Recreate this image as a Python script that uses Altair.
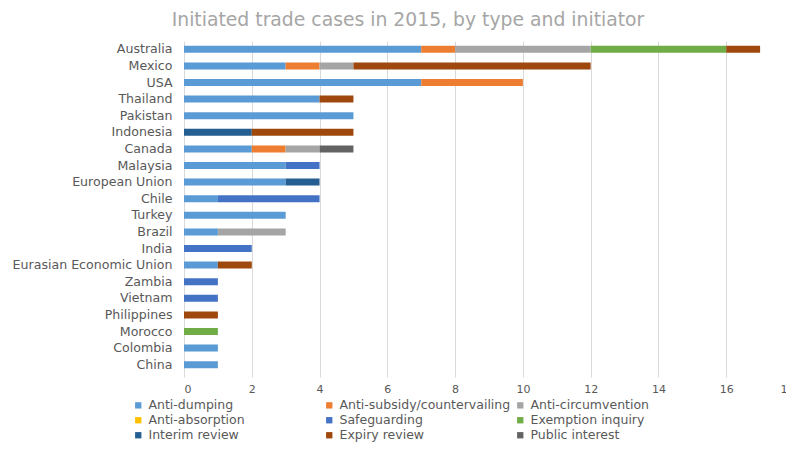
import altair as alt
import pandas as pd

countries = ["Australia", "Mexico", "USA", "Thailand", "Pakistan", "Indonesia", "Canada",
             "Malaysia", "European Union", "Chile", "Turkey", "Brazil", "India",
             "Eurasian Economic Union", "Zambia", "Vietnam", "Philippines", "Morocco",
             "Colombia", "China"]

types = ["Anti-dumping", "Anti-subsidy/countervailing", "Anti-circumvention",
         "Anti-absorption", "Safeguarding", "Exemption inquiry",
         "Interim review", "Expiry review", "Public interest"]

colors = ["#5B9BD5", "#ED7D31", "#A5A5A5", "#FFC000", "#4472C4", "#70AD47",
          "#255E91", "#9E480E", "#636363"]

anti_dumping      = [7, 3, 7, 4, 5, 0, 2, 3, 3, 1, 3, 1, 0, 1, 0, 0, 0, 0, 1, 1]
anti_subsidy      = [1, 1, 3, 0, 0, 0, 1, 0, 0, 0, 0, 0, 0, 0, 0, 0, 0, 0, 0, 0]
anti_circumvention= [4, 1, 0, 0, 0, 0, 1, 0, 0, 0, 0, 2, 0, 0, 0, 0, 0, 0, 0, 0]
anti_absorption   = [0, 0, 0, 0, 0, 0, 0, 0, 0, 0, 0, 0, 0, 0, 0, 0, 0, 0, 0, 0]
safeguarding      = [0, 0, 0, 0, 0, 0, 0, 1, 0, 3, 0, 0, 2, 0, 1, 1, 0, 0, 0, 0]
exemption_inquiry = [4, 0, 0, 0, 0, 0, 0, 0, 0, 0, 0, 0, 0, 0, 0, 0, 0, 1, 0, 0]
interim_review    = [0, 0, 0, 0, 0, 2, 0, 0, 1, 0, 0, 0, 0, 0, 0, 0, 0, 0, 0, 0]
expiry_review     = [1, 7, 0, 1, 0, 3, 0, 0, 0, 0, 0, 0, 0, 1, 0, 0, 1, 0, 0, 0]
public_interest   = [0, 0, 0, 0, 0, 0, 1, 0, 0, 0, 0, 0, 0, 0, 0, 0, 0, 0, 0, 0]

series = [anti_dumping, anti_subsidy, anti_circumvention, anti_absorption, safeguarding,
          exemption_inquiry, interim_review, expiry_review, public_interest]

rows = []
for ti, (t, vals) in enumerate(zip(types, series)):
    for c, v in zip(countries, vals):
        rows.append({"country": c, "type": t, "order": ti, "value": v})
df = pd.DataFrame(rows)

chart = alt.Chart(df).mark_bar(size=7).encode(
    y=alt.Y("country:N", sort=countries, title=None,
            scale=alt.Scale(paddingInner=0.58, paddingOuter=0.29),
            axis=alt.Axis(ticks=False, domain=False, labelPadding=12,
                          labelFont="DejaVu Sans", labelFontSize=12.6,
                          labelColor="#595959", grid=False, labelLimit=300)),
    x=alt.X("value:Q", stack="zero", title=None,
            scale=alt.Scale(domain=[0, 18], nice=False),
            axis=alt.Axis(values=list(range(0, 19, 2)), tickSize=4, tickColor="#d9d9d9",
                          domain=False, gridColor="#d9d9d9", gridWidth=1,
                          labelFont="DejaVu Sans", labelFontSize=11, labelColor="#595959",
                          labelPadding=6)),
    color=alt.Color("type:N", scale=alt.Scale(domain=types, range=colors),
                    legend=alt.Legend(title=None, orient="none", legendX=-52, legendY=358,
                                      direction="horizontal",
                                      columns=3, gridAlign="all", columnPadding=3,
                                      rowPadding=2, symbolType="square", symbolSize=40,
                                      symbolStrokeWidth=0, labelFont="DejaVu Sans",
                                      labelFontSize=12.5, labelColor="#595959",
                                      labelLimit=300, labelOffset=4)),
    order=alt.Order("order:Q"),
).properties(
    width=610, height=332,
    padding={"left": 176, "top": 33, "right": -8, "bottom": 72},
    autosize=alt.AutoSizeParams(type="none"),
    title=alt.TitleParams("Initiated trade cases in 2015, by type and initiator",
                          font="DejaVu Sans", fontSize=18.8, fontWeight="normal",
                          color="#a6a6a6", anchor="middle", dx=-81, offset=11),
).configure_view(stroke=None)

chart.save("out.html", embed_options={"renderer": "svg", "actions": False})
